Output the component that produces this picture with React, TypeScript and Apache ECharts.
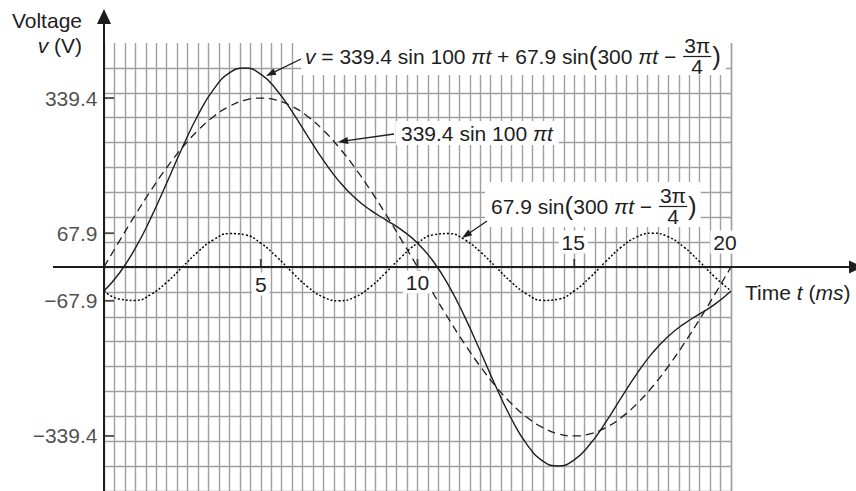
import React, { useEffect, useRef } from "react";
import * as echarts from "echarts";

// time in ms, sampled every 0.5 ms
const timeMs = [
  0, 0.5, 1, 1.5, 2, 2.5, 3, 3.5, 4, 4.5, 5, 5.5, 6, 6.5, 7, 7.5, 8, 8.5, 9, 9.5, 10,
  10.5, 11, 11.5, 12, 12.5, 13, 13.5, 14, 14.5, 15, 15.5, 16, 16.5, 17, 17.5, 18, 18.5, 19, 19.5, 20,
];
// 339.4 sin 100πt (dashed)
const fundamentalV = [
  0, 53.1, 104.9, 154.1, 199.5, 240.0, 274.6, 302.4, 322.8, 335.2, 339.4, 335.2, 322.8, 302.4, 274.6,
  240.0, 199.5, 154.1, 104.9, 53.1, 0, -53.1, -104.9, -154.1, -199.5, -240.0, -274.6, -302.4, -322.8,
  -335.2, -339.4, -335.2, -322.8, -302.4, -274.6, -240.0, -199.5, -154.1, -104.9, -53.1, 0,
];
// 67.9 sin(300πt − 3π/4) (dotted)
const harmonicV = [
  -48.0, -64.6, -67.1, -54.9, -30.8, 0, 30.8, 54.9, 67.1, 64.6, 48.0, 21.0, -10.6, -39.9, -60.5, -67.9,
  -60.5, -39.9, -10.6, 21.0, 48.0, 64.6, 67.1, 54.9, 30.8, 0, -30.8, -54.9, -67.1, -64.6, -48.0, -21.0,
  10.6, 39.9, 60.5, 67.9, 60.5, 39.9, 10.6, -21.0, -48.0,
];
// resultant v (solid)
const totalV = [
  -48.0, -11.5, 37.8, 99.2, 168.7, 240.0, 305.4, 357.3, 389.9, 399.8, 387.4, 356.2, 312.2, 262.5, 214.1,
  172.1, 139.0, 114.2, 94.3, 74.1, 48.0, 11.5, -37.8, -99.2, -168.7, -240.0, -305.4, -357.3, -389.9,
  -399.8, -387.4, -356.2, -312.2, -262.5, -214.1, -172.1, -139.0, -114.2, -94.3, -74.1, -48.0,
];
const xTickValues = [5, 10, 15, 20];
const xTickLabels = ["5", "10", "15", "20"];
const yTickValues = [339.4, 67.9, -67.9, -339.4];
const yTickLabels = ["339.4", "67.9", "−67.9", "−339.4"];
const xMin = 0;
const xMax = 20;
const xStep = 1 / 3;
const yMin = -450;
const yMax = 450;
const yStep = 50;

const FONT = '"Liberation Sans", Arial, Helvetica, sans-serif';
const INK = "#1e1e1e";
const FS = 21;
const GRID_COLOR = "#a0a0a0";

type Piece = { t: string; it?: boolean; fs?: number } | { num: string; den: string };

const measureCtx = (() => {
  const c = document.createElement("canvas");
  return c.getContext("2d")!;
})();
function textWidth(t: string, size: number, italic?: boolean) {
  measureCtx.font = `${italic ? "italic " : ""}${size}px "Liberation Sans", Arial, sans-serif`;
  return measureCtx.measureText(t).width;
}

function txt(t: string, x: number, y: number, opts: any = {}) {
  return {
    type: "text",
    x,
    y,
    z: 101,
    silent: true,
    style: {
      text: t,
      fontSize: opts.fs ?? FS,
      fontStyle: opts.it ? "italic" : "normal",
      fontFamily: FONT,
      fill: INK,
      align: opts.align ?? "left",
      verticalAlign: "middle",
      ...(opts.bg ? { backgroundColor: "#ffffff", padding: [1, 3] } : {}),
    },
  };
}

function mathText(pieces: Piece[], x0: number, yc: number) {
  const els: any[] = [];
  let x = x0;
  for (const p of pieces) {
    if ("num" in p) {
      const fw = Math.max(textWidth(p.num, FS), textWidth(p.den, FS)) + 4;
      els.push({
        type: "line",
        z: 101,
        silent: true,
        shape: { x1: x + 1, y1: yc + 0.5, x2: x + fw - 1, y2: yc + 0.5 },
        style: { stroke: INK, lineWidth: 1.2 },
      });
      els.push(txt(p.num, x + fw / 2, yc - 11, { align: "center" }));
      els.push(txt(p.den, x + fw / 2, yc + 10.5, { align: "center" }));
      x += fw;
    } else {
      const fs = p.fs ?? FS;
      els.push(txt(p.t, x, yc, { fs, it: p.it }));
      x += textWidth(p.t, fs, p.it);
    }
  }
  return { els, width: x - x0 };
}

function whiteBox(x: number, y: number, w: number, h: number) {
  return { type: "rect", z: 100, silent: true, shape: { x, y, width: w, height: h }, style: { fill: "#ffffff" } };
}

function arrow(x1: number, y1: number, x2: number, y2: number, L = 10, H = 3.5, lw = 1.3) {
  const dx = x2 - x1;
  const dy = y2 - y1;
  const len = Math.hypot(dx, dy);
  const ux = dx / len;
  const uy = dy / len;
  const bx = x2 - ux * L;
  const by = y2 - uy * L;
  return [
    { type: "line", z: 102, silent: true, shape: { x1, y1, x2: bx + ux, y2: by + uy }, style: { stroke: INK, lineWidth: lw } },
    {
      type: "polygon",
      z: 102,
      silent: true,
      shape: { points: [[x2, y2], [bx - uy * H, by + ux * H], [bx + uy * H, by - ux * H]] },
      style: { fill: INK },
    },
  ];
}

export default function App() {
  const ref = useRef<HTMLDivElement>(null);

  useEffect(() => {
    document.body.style.margin = "0";
    const chart = echarts.init(ref.current!, null, { renderer: "svg" });

    const nY = Math.round((yMax - yMin) / yStep) + 1;
    const ySplitColors = Array.from({ length: nY }, (_, i) => (i === nY - 1 ? "rgba(0,0,0,0)" : GRID_COLOR));

    const labelStyle = {
      fontFamily: FONT,
      fontSize: FS,
      color: INK,
    };

    chart.setOption({
      animation: false,
      grid: { left: 104, top: 43, width: 627, height: 450, containLabel: false },
      xAxis: {
        type: "value",
        min: xMin,
        max: xMax,
        interval: xStep,
        axisLine: { show: false },
        axisTick: { show: false },
        axisLabel: { show: false },
        splitLine: { show: true, lineStyle: { color: GRID_COLOR, width: 1.4 } },
      },
      yAxis: {
        type: "value",
        min: yMin,
        max: yMax,
        interval: yStep,
        axisLine: { show: false },
        axisTick: { show: false },
        axisLabel: { show: false },
        splitLine: { show: true, lineStyle: { color: ySplitColors, width: 1.4 } },
      },
      series: [
        {
          name: "v",
          type: "line",
          smooth: true,
          symbol: "none",
          silent: true,
          z: 5,
          data: timeMs.map((t, i) => [t, totalV[i]]),
          lineStyle: { color: INK, width: 1.4, type: "solid" },
        },
        {
          name: "339.4 sin 100πt",
          type: "line",
          smooth: true,
          symbol: "none",
          silent: true,
          z: 5,
          data: timeMs.map((t, i) => [t, fundamentalV[i]]),
          lineStyle: { color: INK, width: 1.3, type: [8, 5] },
        },
        {
          name: "67.9 sin(300πt − 3π/4)",
          type: "line",
          smooth: true,
          symbol: "none",
          silent: true,
          z: 5,
          data: timeMs.map((t, i) => [t, harmonicV[i]]),
          lineStyle: { color: "#000000", width: 1.5, type: [2, 2] },
        },
        {
          name: "xTicks",
          type: "scatter",
          silent: true,
          clip: false,
          z: 6,
          symbol: "rect",
          symbolSize: [1.8, 8],
          symbolOffset: [0, -4],
          itemStyle: { color: INK },
          data: xTickValues.filter((v) => v < xMax).map((v) => [v, 0]),
        },
        {
          name: "yTicks",
          type: "scatter",
          silent: true,
          clip: false,
          z: 6,
          symbol: "rect",
          symbolSize: [10, 1.8],
          symbolOffset: [5, 0],
          itemStyle: { color: INK },
          data: yTickValues.map((v) => [0, v]),
        },
        {
          name: "yTickLabels",
          type: "scatter",
          silent: true,
          clip: false,
          z: 7,
          symbolSize: 1,
          itemStyle: { color: "rgba(0,0,0,0)" },
          data: yTickValues.map((v, i) => ({
            value: [0, v],
            label: {
              show: true,
              position: "left",
              distance: 6,
              formatter: yTickLabels[i],
              ...labelStyle,
            },
          })),
        },
      ],
    });

    const origin = chart.convertToPixel({ gridIndex: 0 }, [0, 0]) as number[];
    const ox = origin[0];
    const oy = origin[1];
    const W = 856;
    const H = 491;

    const graphics: any[] = [];
    // axes with arrows
    graphics.push({
      type: "line",
      z: 103,
      silent: true,
      shape: { x1: ox - 51, y1: oy, x2: W - 6, y2: oy },
      style: { stroke: INK, lineWidth: 2 },
    });
    graphics.push({
      type: "polygon",
      z: 103,
      silent: true,
      shape: { points: [[W + 7, oy], [W - 7, oy - 6.5], [W - 7, oy + 6.5]] },
      style: { fill: INK },
    });
    graphics.push({
      type: "line",
      z: 103,
      silent: true,
      shape: { x1: ox, y1: H, x2: ox, y2: 22 },
      style: { stroke: INK, lineWidth: 2 },
    });
    graphics.push({
      type: "polygon",
      z: 103,
      silent: true,
      shape: { points: [[ox, 9], [ox - 7, 24], [ox + 7, 24]] },
      style: { fill: INK },
    });

    // x tick labels, placed through the axis scale
    const xLabelOffsets = [[0, 17], [0, 15], [-1, -25], [-6, -25]];
    xTickValues.forEach((v, i) => {
      const p = chart.convertToPixel({ gridIndex: 0 }, [v, 0]) as number[];
      graphics.push(
        txt(xTickLabels[i], p[0] + xLabelOffsets[i][0], p[1] + xLabelOffsets[i][1], { align: "center", bg: true })
      );
    });

    // axis titles
    graphics.push(txt("Voltage", 82, 20, { align: "right" }));
    graphics.push({
      type: "text",
      x: 82,
      y: 45,
      z: 101,
      silent: true,
      style: {
        text: "{i|v} (V)",
        fontSize: FS,
        fontFamily: FONT,
        fill: INK,
        align: "right",
        verticalAlign: "middle",
        rich: { i: { fontStyle: "italic", fontSize: FS, fontFamily: FONT, fill: INK } },
      },
    });
    const timeLbl = mathText(
      [{ t: "Time " }, { t: "t", it: true }, { t: " (" }, { t: "ms", it: true }, { t: ")" }],
      745,
      292
    );
    graphics.push(...timeLbl.els);

    // formula 1 (resultant)
    const f1x = 305;
    const f1y = 56;
    const f1 = mathText(
      [
        { t: "v", it: true },
        { t: " = 339.4 sin 100 " },
        { t: "πt", it: true },
        { t: " + 67.9 sin" },
        { t: "(", fs: 26 },
        { t: "300 " },
        { t: "πt", it: true },
        { t: " − " },
        { num: "3π", den: "4" },
        { t: ")", fs: 26 },
      ],
      f1x,
      f1y
    );
    graphics.push(whiteBox(f1x - 4, f1y - 24, f1.width + 9, 43));
    graphics.push(...f1.els);
    graphics.push(...arrow(301, 59, 266, 76));

    // formula 2 (fundamental)
    const f2x = 401;
    const f2y = 133;
    const f2 = mathText([{ t: "339.4 sin 100 " }, { t: "πt", it: true }], f2x, f2y);
    graphics.push(whiteBox(f2x - 5, f2y - 12, f2.width + 11, 24));
    graphics.push(...f2.els);
    graphics.push(...arrow(394, 134, 338, 142));

    // formula 3 (third harmonic)
    const f3x = 491;
    const f3y = 206;
    const f3 = mathText(
      [
        { t: "67.9 sin" },
        { t: "(", fs: 26 },
        { t: "300 " },
        { t: "πt", it: true },
        { t: " − " },
        { num: "3π", den: "4" },
        { t: ")", fs: 26 },
      ],
      f3x,
      f3y
    );
    graphics.push(whiteBox(f3x - 6, f3y - 24, f3.width + 10, 45));
    graphics.push(...f3.els);
    graphics.push(...arrow(487, 221, 462, 238));

    chart.setOption({ graphic: graphics });

    return () => chart.dispose();
  }, []);

  return <div ref={ref} style={{ width: 856, height: 491 }} />;
}
